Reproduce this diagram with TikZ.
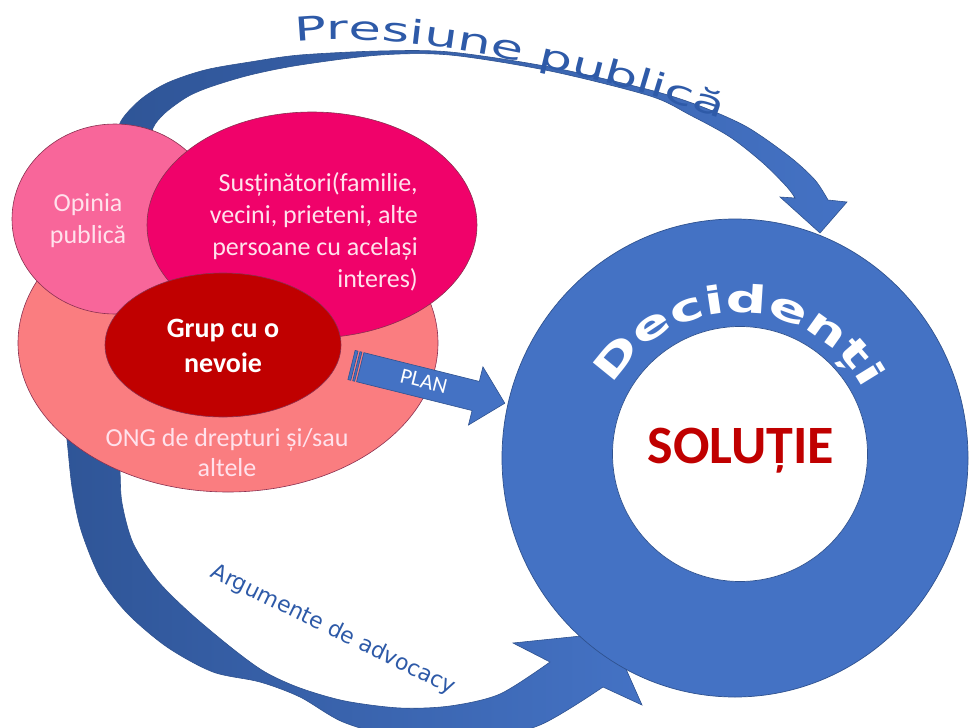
\documentclass[tikz,border=0pt]{standalone}
\usepackage{fontspec}
\setmainfont{Carlito}
\newfontfamily\decfont[FakeStretch=1.5]{DejaVu Sans}
\newfontfamily\presfont[FakeStretch=1.6]{DejaVu Sans}
\newfontfamily\advfont{DejaVu Sans}
\usetikzlibrary{decorations.text}
\definecolor{ringblue}{HTML}{4472C4}
\definecolor{darkblue}{HTML}{2F5597}
\definecolor{edgeblue}{HTML}{2F528F}
\definecolor{textblue}{HTML}{2E5AA8}
\definecolor{opcol}{HTML}{F8669A}
\definecolor{suscol}{HTML}{F0026A}
\definecolor{ongcol}{HTML}{FA7D80}
\definecolor{grupcol}{HTML}{C00000}
\definecolor{lighttext}{HTML}{FFE2EC}
\definecolor{solred}{HTML}{C00000}
\definecolor{ellipseedge}{HTML}{8A3050}
\tikzset{
  bandarrow/.style={left color=darkblue, right color=ringblue, draw=edgeblue, line width=0.6pt},
  blob/.style={draw=ellipseedge, line width=0.6pt},
  lbl/.style={text=lighttext, inner sep=0pt, font=\fontsize{26}{32}\selectfont},
  ringedge/.style={draw=edgeblue, line width=0.7pt},
}
\begin{document}
\begin{tikzpicture}[x=1pt,y=-1pt]
\useasboundingbox (0,0) rectangle (970,728);
\clip (0,0) rectangle (970,728);
\fill[white] (0,0) rectangle (970,728);

% named points
\coordinate (toptip) at (820,233);
\coordinate (bottip) at (610,633);
\coordinate (ringc) at (735,458);
\coordinate (innerc) at (740,454);

% upper curved arrow (Presiune publica)
\shadedraw[bandarrow]
  plot[smooth] coordinates {(118,150) (120,123) (140,100) (167,83) (205,70) (250,62) (300,55) (380,51) (450,52) (550,67) (650,90) (700,106) (747,127) (790,157) (815,180) (828,200)}
  -- (847,202) -- (toptip) -- (780,197)
  -- plot[smooth] coordinates {(795,198) (787,187) (763,163) (730,137) (690,115) (650,96) (550,71) (450,55) (380,55) (300,65) (250,75) (210,87) (187,97) (165,113) (153,128) (150,150)}
  -- cycle;

% lower curved arrow (Argumente de advocacy)
\shadedraw[bandarrow]
  plot[smooth] coordinates {(62,400) (67,440) (72,487) (81,530) (100,577) (127,613) (167,647) (213,672) (260,682) (300,697) (343,722) (400,738) (470,742) (540,725) (603,687)}
  -- (642,705) -- (bottip) -- (513,643)
  -- plot[smooth] coordinates {(550,662) (500,694) (450,706) (400,708) (345,701) (300,688) (265,672) (233,649) (190,613) (157,580) (133,543) (122,503) (120,470) (118,420)}
  -- cycle;

% ellipses
\filldraw[blob, fill=ongcol] (228,343) ellipse[x radius=210, y radius=149];
\filldraw[blob, fill=opcol] (115,219) ellipse[x radius=103, y radius=95];
\filldraw[blob, fill=suscol] (312,225) ellipse[x radius=165, y radius=113];
\filldraw[blob, fill=grupcol] (223,345) ellipse[x radius=118, y radius=72];

\node[lbl, align=center] (op) at (88,221) {Opinia\\publică};
\node[lbl, align=right, anchor=east] (sus) at (418,232) {Susținători(familie,\\vecini, prieteni, alte\\persoane cu același\\interes)};
\node[lbl, align=center, font=\fontsize{26}{30}\selectfont] (ong) at (227,453) {ONG de drepturi și/sau\\altele};
\node[text=white, inner sep=0pt, align=center, font=\bfseries\fontsize{28}{35}\selectfont] (grup) at (223,346) {Grup cu o\\nevoie};

% ring
\filldraw[ringedge, fill=ringblue] (ringc) ellipse[x radius=233, y radius=239];
\filldraw[ringedge, fill=white] (innerc) circle[radius=127.5];

\path[decorate, decoration={text along path,
   text={|\decfont\bfseries\fontsize{38}{38}\selectfont|Decidenți},
   text align=center, text color=white}]
   (737,456) ++(205:143) arc[start angle=205, end angle=337, radius=143];

\node[anchor=base, inner sep=0pt, text=solred, font=\bfseries\fontsize{54}{54}\selectfont] (sol) at (741,463) {SOLUȚIE};

% PLAN arrow
\begin{scope}[shift={(351.5,365)}, rotate=-14]
  \filldraw[fill=ringblue, draw=edgeblue, line width=0.6pt] (0,-15) rectangle (3,15);
  \filldraw[fill=ringblue, draw=edgeblue, line width=0.6pt] (5,-15) rectangle (7,15);
  \filldraw[fill=ringblue, draw=edgeblue, line width=0.6pt]
    (9,-15) -- (128,-15) -- (128,-30) -- (158,0) -- (128,30) -- (128,15) -- (9,15) -- cycle;
  \node[text=white, inner sep=0pt, rotate=-14, font=\fontsize{22}{22}\selectfont] (plan) at (74,-2) {PLAN};
\end{scope}

% curved texts
\path[decorate, decoration={text along path,
   text={|\presfont\fontsize{33}{33}\selectfont|Presiune publică},
   text align=center, text color=textblue}]
   (270,46) .. controls (380,22) and (580,67) .. (745,127);

\node[text=textblue, inner sep=0pt, rotate=-26, font=\advfont\fontsize{22}{22}\selectfont] (adv) at (333,630) {Argumente de advocacy};
\end{tikzpicture}
\end{document}
